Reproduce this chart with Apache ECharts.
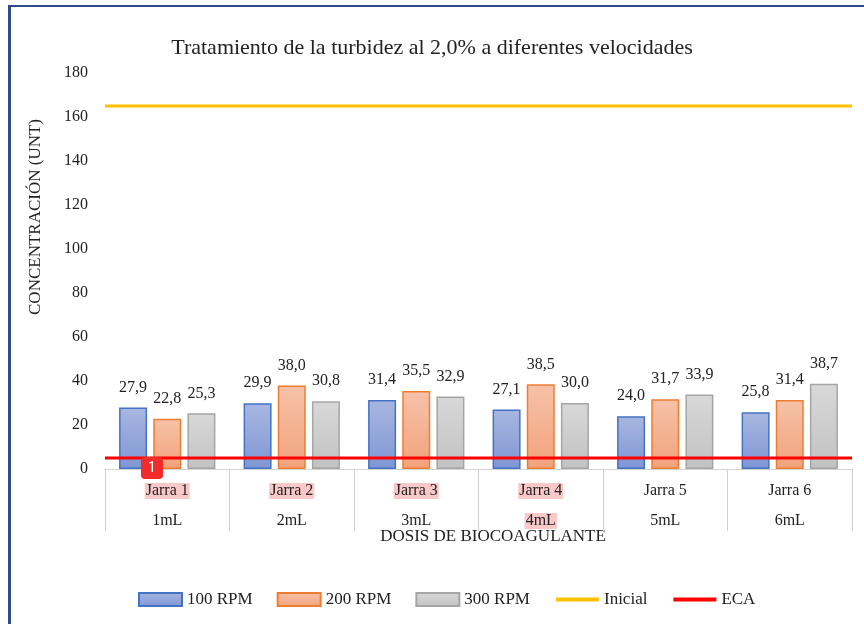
<!DOCTYPE html>
<html>
<head>
<meta charset="utf-8">
<script src="https://cdn.jsdelivr.net/npm/echarts@6/dist/echarts.min.js"></script>
<style>
  html, body { margin: 0; padding: 0; background: #fff; }
  #chart { position: absolute; left: 0; top: 0; width: 864px; height: 624px; }
  #frame {
    position: absolute; left: 8px; top: 5px; width: 860px; height: 630px;
    border-left: 3px solid #2f4b8c; border-top: 2px solid #2f4b8c;
    pointer-events: none;
  }
</style>
</head>
<body>
<div id="chart"></div>
<div id="frame"></div>
<script>
// datos
const jarras = ['Jarra 1', 'Jarra 2', 'Jarra 3', 'Jarra 4', 'Jarra 5', 'Jarra 6'];
const dosis = ['1mL', '2mL', '3mL', '4mL', '5mL', '6mL'];
const rpm100 = [27.9, 29.9, 31.4, 27.1, 24.0, 25.8];
const rpm200 = [22.8, 38.0, 35.5, 38.5, 31.7, 31.4];
const rpm300 = [25.3, 30.8, 32.9, 30.0, 33.9, 38.7];
const inicial = [165, 165, 165, 165, 165, 165];
const eca = [5, 5, 5, 5, 5, 5];
// resaltados (marcas rosadas del documento)
const jarrasMarcadas = [0, 1, 2, 3];
const dosisMarcadas = [3];

const serif = '"Liberation Serif", "Times New Roman", serif';
const textColor = '#222';

function coma(p) {
  return p.value.toFixed(1).replace('.', ',');
}

function barra(name, data, top, bottom, border) {
  return {
    name: name,
    type: 'bar',
    data: data,
    barWidth: 28,
    barGap: '22%',
    itemStyle: {
      color: new echarts.graphic.LinearGradient(0, 0, 0, 1, [
        { offset: 0, color: top },
        { offset: 1, color: bottom }
      ]),
      borderColor: border,
      borderWidth: 1.5
    },
    label: {
      show: true,
      position: 'top',
      distance: 12,
      formatter: coma,
      fontFamily: serif,
      fontSize: 16,
      color: textColor
    }
  };
}

function linea(name, data, color) {
  return {
    name: name,
    type: 'line',
    xAxisIndex: 1,
    data: data,
    symbol: 'none',
    lineStyle: { color: color, width: 3 },
    // sin circulo en la leyenda
    itemStyle: { color: color, opacity: 0 }
  };
}

const chart = echarts.init(document.getElementById('chart'));

chart.setOption({
  animation: false,
  title: {
    text: 'Tratamiento de la turbidez al 2,0% a diferentes velocidades',
    left: 'center',
    top: 37,
    padding: 0,
    textStyle: { fontFamily: serif, fontSize: 22, fontWeight: 'normal', color: textColor }
  },
  legend: {
    left: 133,
    top: 586,
    itemWidth: 43,
    itemHeight: 13,
    itemGap: 24,
    lineStyle: { width: 4 },
    data: [
      { name: '100 RPM', icon: 'rect' },
      { name: '200 RPM', icon: 'rect' },
      { name: '300 RPM', icon: 'rect' },
      'Inicial',
      'ECA'
    ],
    textStyle: { fontFamily: serif, fontSize: 17, color: textColor }
  },
  grid: { left: 105, right: 12, top: 73, bottom: 155 },
  xAxis: [
    {
      type: 'category',
      data: jarras,
      axisLine: { show: true, lineStyle: { color: '#d4d4d4', width: 1 } },
      axisTick: { show: true, alignWithLabel: false, interval: 0, length: 62, lineStyle: { color: '#d0d0d0', width: 1 } },
      axisLabel: {
        interval: 0,
        margin: 13,
        formatter: function (value, i) {
          const a = jarrasMarcadas.includes(i) ? '{hl|' + value + '}' : '{n|' + value + '}';
          const b = dosisMarcadas.includes(i) ? '{hl|' + dosis[i] + '}' : '{n|' + dosis[i] + '}';
          return a + '\n{sp| }\n' + b;
        },
        rich: {
          n: { fontFamily: serif, fontSize: 16, color: textColor, lineHeight: 18 },
          hl: { fontFamily: serif, fontSize: 16, color: textColor, lineHeight: 18, backgroundColor: '#fac8c8', padding: [0, 1] },
          sp: { fontSize: 1, lineHeight: 12 }
        }
      }
    },
    {
      type: 'category',
      data: jarras,
      boundaryGap: false,
      show: false
    }
  ],
  yAxis: {
    type: 'value',
    min: 0,
    max: 180,
    interval: 20,
    splitLine: { show: false },
    axisLine: { show: false },
    axisTick: { show: false },
    axisLabel: { margin: 17, fontFamily: serif, fontSize: 16, color: textColor }
  },
  graphic: [
    {
      type: 'text',
      x: 36,
      y: 217,
      rotation: Math.PI / 2,
      style: {
        text: 'CONCENTRACIÓN (UNT)',
        fontFamily: serif,
        fontSize: 17,
        fill: textColor,
        align: 'center',
        verticalAlign: 'middle'
      }
    },
    {
      type: 'text',
      x: 493,
      y: 537,
      style: {
        text: 'DOSIS DE BIOCOAGULANTE',
        fontFamily: serif,
        fontSize: 17,
        fill: textColor,
        align: 'center',
        verticalAlign: 'middle'
      }
    },
    {
      type: 'rect',
      x: 141,
      y: 457,
      z: 100,
      shape: { x: 0, y: 0, width: 22, height: 22, r: 4 },
      style: { fill: '#f22b2b' }
    },
    {
      type: 'text',
      x: 152,
      y: 468,
      z: 101,
      style: { text: '1', fontFamily: 'Roboto, sans-serif', fontSize: 14, fill: '#fff', align: 'center', verticalAlign: 'middle' }
    }
  ],
  series: [
    barra('100 RPM', rpm100, '#a8b7e0', '#7f96d5', '#4472c4'),
    barra('200 RPM', rpm200, '#f6c2a9', '#f2a27c', '#ed7d31'),
    barra('300 RPM', rpm300, '#d8d8d8', '#c2c2c2', '#a5a5a5'),
    linea('Inicial', inicial, '#ffc000'),
    linea('ECA', eca, '#ff0000')
  ]
});
</script>
</body>
</html>
